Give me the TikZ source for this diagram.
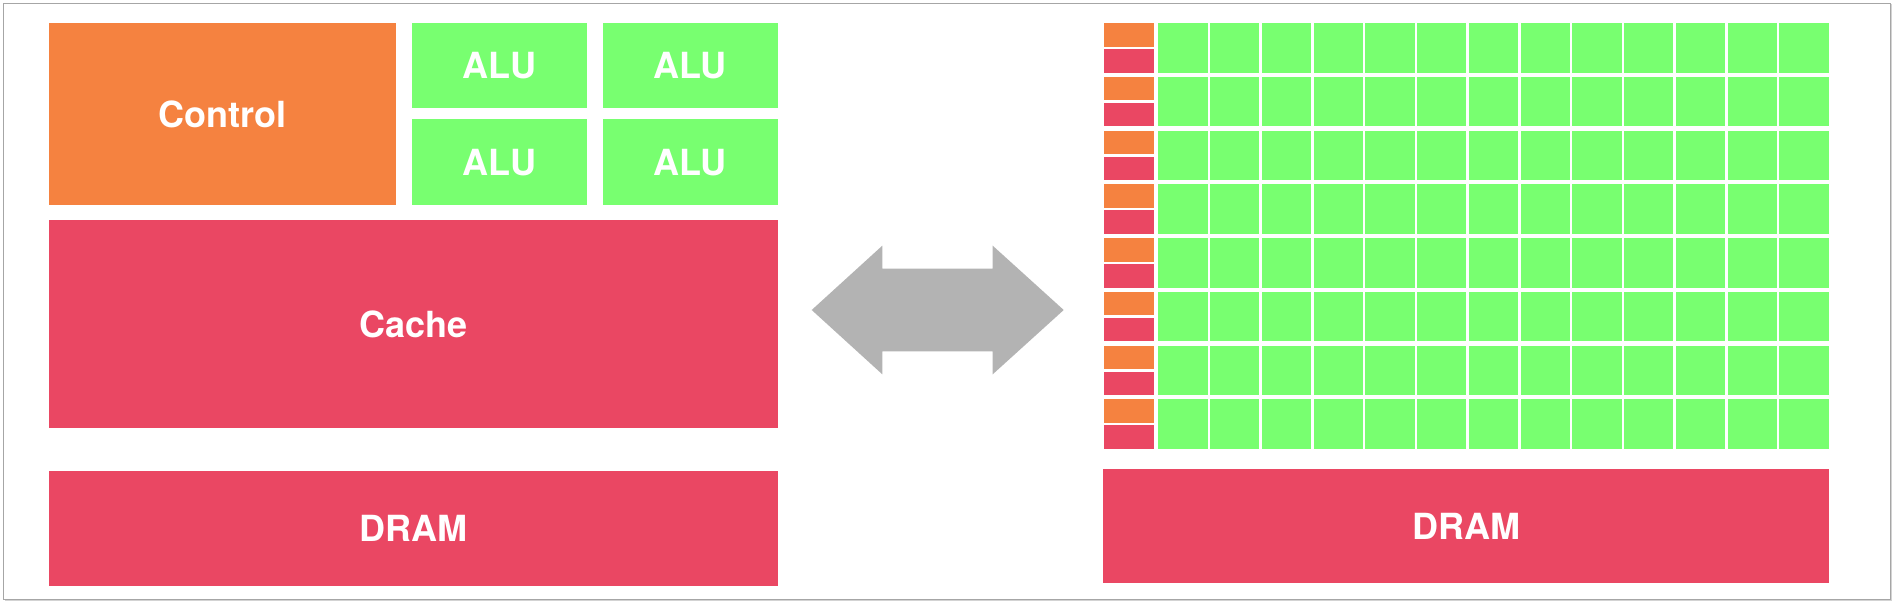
\documentclass[tikz,border=0pt]{standalone}
\usepackage{fontspec}
\setmainfont{TeX Gyre Heros}
\usetikzlibrary{positioning,shadows}
\definecolor{ctrlorange}{RGB}{245,130,64}
\definecolor{memred}{RGB}{234,71,99}
\definecolor{alugreen}{RGB}{120,255,112}
\definecolor{arrowgray}{RGB}{179,179,179}

\begin{document}
\begin{tikzpicture}[x=1pt,y=-1pt,
                    every node/.style={inner sep=0pt,outer sep=0pt,text=white,
                                       font=\bfseries\fontsize{36}{43}\selectfont}]
\tikzstyle{block}=[rectangle,anchor=north west]
\tikzstyle{ctrl}=[block,fill=ctrlorange]
\tikzstyle{mem}=[block,fill=memred]
\tikzstyle{alu}=[block,fill=alugreen,minimum width=175pt,minimum height=85.5pt]
\tikzstyle{core}=[block,fill=alugreen,minimum width=49.4pt,minimum height=49.4pt]

\useasboundingbox (0,0) rectangle (1894,604);
\draw[gray!70,fill=white,drop shadow={shadow xshift=1.5pt,shadow yshift=-1.5pt,opacity=0.35}]
      (3,3) rectangle (1890,599);

\node[ctrl,minimum width=347pt,minimum height=182pt] 	(control) 	at (49,23) 	{Control};
\node[alu,right=16pt of control.north east,anchor=north west]	(alu1) 	{ALU};
\node[alu,right=15.7pt of alu1]		(alu2) 	{ALU};
\node[alu,below=11pt of alu1]		(alu3) 	{ALU};
\node[alu,below=11pt of alu2]		(alu4) 	{ALU};
\node[mem,minimum width=729pt,minimum height=208pt,below=15pt of control.south west,anchor=north west]
			(cache) 	{Cache};
\node[mem,minimum width=729pt,minimum height=115pt,below=42.5pt of cache.south west,anchor=north west]
			(dram) 	{DRAM};

\coordinate (link) at (937.7,310);
\fill[arrowgray] (link) ++(-126,0) -- ++(70.6,-64.3) -- ++(0,23) -- ++(110.4,0) -- ++(0,-23)
      -- ++(71,64.3) -- ++(-71,64.3) -- ++(0,-23) -- ++(-110.4,0) -- ++(0,23) -- cycle;

\foreach \i in {0,...,7} {
  \node[ctrl,minimum width=49.7pt,minimum height=23.4pt] 	(ctl-\i) 	at (1104.3,23.3+53.7*\i) 	{};
  \node[mem,minimum width=49.7pt,minimum height=23.4pt] 	(l1-\i) 	at (1104.3,49.3+53.7*\i) 	{};
  \foreach \j in {0,...,12}
    \node[core] 	(core-\i-\j) 	at (1158.3+51.75*\j,23.3+53.7*\i) 	{};
}
\node[mem,minimum width=725.4pt,minimum height=114.6pt] 	(gpudram) 	at (1103.3,468.7) 	{DRAM};

\end{tikzpicture}
\end{document}
